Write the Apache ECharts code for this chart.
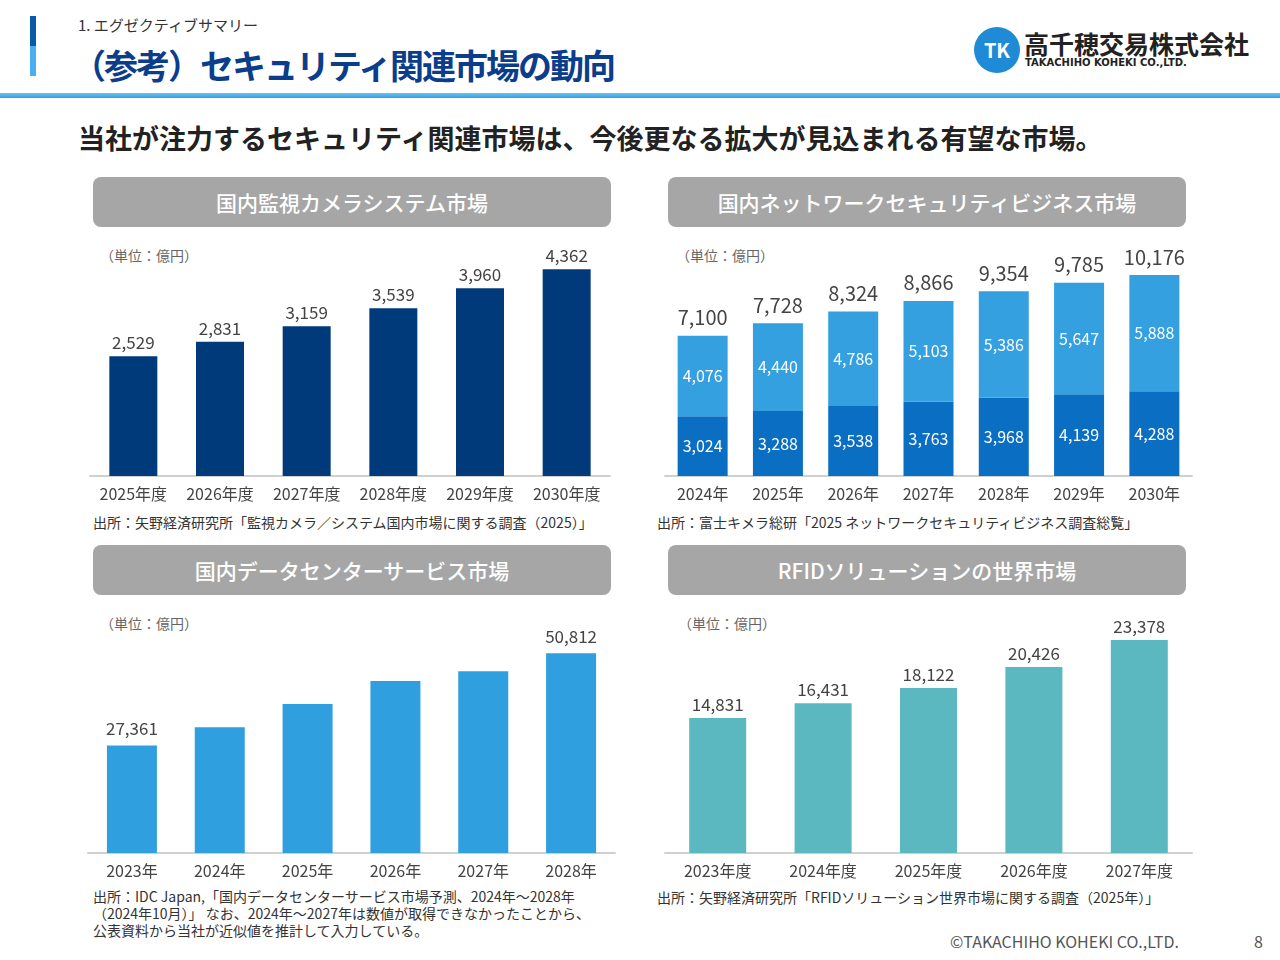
<!DOCTYPE html>
<html><head><meta charset="utf-8">
<script src="https://cdn.jsdelivr.net/npm/echarts@6/dist/echarts.min.js"></script>
<style>
body{margin:0;width:1280px;height:960px;background:#fff;font-family:"Noto Sans CJK JP",sans-serif;position:relative;overflow:hidden}
.a{position:absolute;white-space:nowrap}
.box{position:absolute;background:#a6a6a6;color:#fff;border-radius:8px;text-align:center;font-size:21px;line-height:50px;height:50px;font-weight:500}
.unit{position:absolute;font-size:14px;color:#666}
.src{position:absolute;font-size:14px;color:#333;line-height:17px}
#c{position:absolute;left:0;top:0;width:1280px;height:960px}
</style></head><body>
<div class="a" style="left:30px;top:16px;width:6px;height:30px;background:#0a5aa8"></div>
<div class="a" style="left:30px;top:46px;width:6px;height:30px;background:#4aaef0"></div>
<div class="a" style="left:78px;top:14px;font-size:15px;color:#333">1. エグゼクティブサマリー</div>
<div class="a" style="left:72px;top:40px;font-size:34px;font-weight:bold;color:#0a3d8c;letter-spacing:-2px">（参考）セキュリティ関連市場の動向</div>
<div class="a" style="left:0;top:93px;width:1280px;height:5px;background:linear-gradient(#6cc4f4,#2e9fe6)"></div>
<div class="a" style="left:974px;top:27px;width:46px;height:46px;border-radius:50%;background:#1f8ad6;color:#fff;font-weight:bold;font-size:20px;line-height:46px;text-align:center">TK</div>
<div class="a" style="left:1024px;top:28px;font-size:25px;font-weight:bold;color:#222;line-height:30px">高千穂交易株式会社</div>
<div class="a" style="left:1025px;top:57px;font-size:10px;font-weight:bold;color:#222;font-family:'DejaVu Sans'">TAKACHIHO KOHEKI CO.,LTD.</div>
<div class="a" style="left:78px;top:118px;font-size:27px;font-weight:bold;color:#222">当社が注力するセキュリティ関連市場は、今後更なる拡大が見込まれる有望な市場。</div>
<div class="box" style="left:93px;top:177px;width:518px">国内監視カメラシステム市場</div>
<div class="box" style="left:668px;top:177px;width:518px">国内ネットワークセキュリティビジネス市場</div>
<div class="box" style="left:93px;top:545px;width:518px">国内データセンターサービス市場</div>
<div class="box" style="left:668px;top:545px;width:518px">RFIDソリューションの世界市場</div>
<div class="unit" style="left:100px;top:245px">（単位：億円）</div>
<div class="unit" style="left:676px;top:245px">（単位：億円）</div>
<div class="unit" style="left:100px;top:613px">（単位：億円）</div>
<div class="unit" style="left:678px;top:613px">（単位：億円）</div>
<div class="src" style="left:93px;top:514px">出所：矢野経済研究所「監視カメラ／システム国内市場に関する調査（2025）」</div>
<div class="src" style="left:657px;top:514px">出所：富士キメラ総研「2025 ネットワークセキュリティビジネス調査総覧」</div>
<div class="src" style="left:93px;top:888px;width:510px;white-space:normal">出所：IDC Japan,「国内データセンターサービス市場予測、2024年～2028年（2024年10月）」 なお、2024年～2027年は数値が取得できなかったことから、公表資料から当社が近似値を推計して入力している。</div>
<div class="src" style="left:657px;top:889px">出所：矢野経済研究所「RFIDソリューション世界市場に関する調査（2025年）」</div>
<div class="a" style="left:950px;top:929px;font-size:16px;color:#555">©TAKACHIHO KOHEKI CO.,LTD.</div>
<div class="a" style="left:1254px;top:929px;font-size:16px;color:#555">8</div>
<div id="c"></div>
<script>
var camYears = ['2025年度','2026年度','2027年度','2028年度','2029年度','2030年度'];
var camValues = [2529, 2831, 3159, 3539, 3960, 4362];
var netYears = ['2024年','2025年','2026年','2027年','2028年','2029年','2030年'];
var netLower = [3024, 3288, 3538, 3763, 3968, 4139, 4288];
var netUpper = [4076, 4440, 4786, 5103, 5386, 5647, 5888];
var netTotal = [7100, 7728, 8324, 8866, 9354, 9785, 10176];
var dcYears = ['2023年','2024年','2025年','2026年','2027年','2028年'];
var dcValues = [27361, 32000, 37900, 43700, 46200, 50812];
var dcLabeled = [true, false, false, false, false, true];
var rfidYears = ['2023年度','2024年度','2025年度','2026年度','2027年度'];
var rfidValues = [14831, 16431, 18122, 20426, 23378];

var chart = echarts.init(document.getElementById('c'));
var font = '"Noto Sans CJK JP", sans-serif';
function fmt(v){ return v.toLocaleString('en-US'); }
var grids = [
  {left:90, width:520, top:239, height:237},
  {left:665, width:527, top:239, height:237},
  {left:88, width:527, top:617, height:236},
  {left:665, width:527, top:598, height:255}
];
var cats = [camYears, netYears, dcYears, rfidYears];
var maxes = [5000, 12000, 60000, 28000];
var xAxis = cats.map(function(c,i){ return {type:'category', gridIndex:i, data:c,
  axisLine:{lineStyle:{color:'#d0d0d0', width:2}}, axisTick:{show:false},
  axisLabel:{color:'#444', fontSize:16, fontFamily:font, margin:10, interval:0}}; });
var yAxis = maxes.map(function(m,i){ return {type:'value', gridIndex:i, min:0, max:m, show:false, splitLine:{show:false}}; });
var topLabel = function(size){ return {show:true, position:'top', color:'#444', fontSize:size, fontFamily:font,
  formatter:function(p){ return fmt(p.value); }}; };
var inLabel = {show:true, position:'inside', color:'#fff', fontSize:16, fontFamily:font, formatter:function(p){ return fmt(p.value); }};
chart.setOption({
  animation:false,
  grid:grids, xAxis:xAxis, yAxis:yAxis,
  series:[
    {type:'bar', xAxisIndex:0, yAxisIndex:0, data:camValues, barWidth:48, itemStyle:{color:'#003a7a'}, label:topLabel(17)},
    {type:'bar', xAxisIndex:1, yAxisIndex:1, stack:'n', data:netLower, barWidth:50, itemStyle:{color:'#0a6fc2'}, label:inLabel},
    {type:'bar', xAxisIndex:1, yAxisIndex:1, stack:'n', data:netUpper, barWidth:50, itemStyle:{color:'#35a0e0'}, label:inLabel},
    {type:'bar', xAxisIndex:1, yAxisIndex:1, stack:'n', data:netTotal.map(function(){return 0;}), barWidth:50,
      label:{show:true, position:'top', distance:8, color:'#444', fontSize:20, fontFamily:font,
        formatter:function(p){ return fmt(netTotal[p.dataIndex]); }}},
    {type:'bar', xAxisIndex:2, yAxisIndex:2, data:dcValues, barWidth:50, itemStyle:{color:'#2f9fdf'},
      label:{show:true, position:'top', distance:8, color:'#444', fontSize:17, fontFamily:font,
        formatter:function(p){ return dcLabeled[p.dataIndex] ? fmt(p.value) : ''; }}},
    {type:'bar', xAxisIndex:3, yAxisIndex:3, data:rfidValues, barWidth:57, itemStyle:{color:'#5bb8c0'}, label:topLabel(17)}
  ]
});
</script>
</body></html>
